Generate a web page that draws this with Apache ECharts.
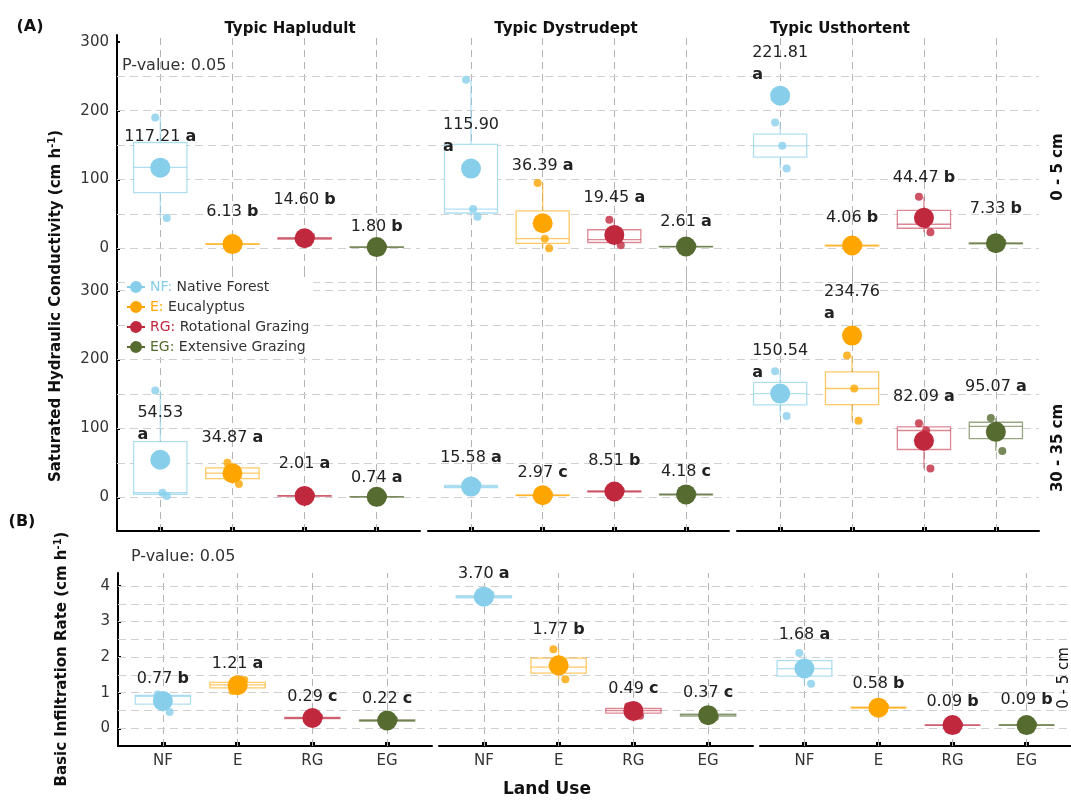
<!DOCTYPE html>
<html>
<head>
<meta charset="utf-8">
<script src="https://cdn.jsdelivr.net/npm/echarts@6/dist/echarts.min.js"></script>
<style>
  html, body { margin: 0; padding: 0; background: #fff; }
  #chart { width: 1071px; height: 805px; }
</style>
</head>
<body>
<div id="chart"></div>
<script>
// ---------------- data ----------------
const groups = ['NF', 'E', 'RG', 'EG'];
const groupLabels = ['Native Forest', 'Eucalyptus', 'Rotational Grazing', 'Extensive Grazing'];
const soils = ['Typic Hapludult', 'Typic Dystrudept', 'Typic Usthortent'];

// Saturated hydraulic conductivity, 0 - 5 cm (cm h-1), indexed [soil][land use]
const ksat05Mean = [[117.21, 6.13, 14.60, 1.80], [115.90, 36.39, 19.45, 2.61], [221.81, 4.06, 44.47, 7.33]];
const ksat05Letter = [['a', 'b', 'b', 'b'], ['a', 'a', 'a', 'a'], ['a', 'b', 'b', 'b']];
const ksat05Reps = [
  [[190, 117.6, 44], [5.2, 6.0, 7.2], [12.5, 14.3, 17.0], [1.2, 1.8, 2.4]],
  [[245, 57, 45.7], [95, 14, 0.2], [41.5, 12.5, 4.35], [1.9, 2.6, 3.33]],
  [[183, 149, 116], [3.2, 4.0, 5.0], [75, 35, 23.4], [5.9, 7.2, 8.9]]
];
const ksat05LabelAt = [[162, 53, 70, 31], [163, 120, 73, 38], [268, 44, 103, 57]];
const ksat05Wrap = [[false, false, false, false], [true, false, false, false], [true, false, false, false]];

// Saturated hydraulic conductivity, 30 - 35 cm (cm h-1)
const ksat30Mean = [[54.53, 34.87, 2.01, 0.74], [15.58, 2.97, 8.51, 4.18], [150.54, 234.76, 82.09, 95.07]];
const ksat30Letter = [['a', 'a', 'a', 'a'], ['a', 'c', 'b', 'c'], ['a', 'a', 'a', 'a']];
const ksat30Reps = [
  [[155, 6.6, 2], [50.3, 35, 19.3], [1.2, 2.0, 2.83], [0.4, 0.7, 1.12]],
  [[12.5, 15.5, 18.74], [2.1, 2.9, 3.91], [7.0, 8.5, 10.03], [3.2, 4.1, 5.24]],
  [[183, 150.6, 118], [206, 158, 111], [107.5, 97, 41.8], [115, 103, 67.2]]
];
const ksat30LabelAt = [[106, 87, 49, 28], [58, 35, 53, 37], [196, 282, 146, 161]];
const ksat30Wrap = [[true, false, false, false], [false, false, false, false], [true, true, false, false]];

// Basic infiltration rate, 0 - 5 cm (cm h-1)
const ibrMean = [[0.77, 1.21, 0.29, 0.22], [3.70, 1.77, 0.49, 0.37], [1.68, 0.58, 0.09, 0.09]];
const ibrLetter = [['b', 'a', 'c', 'c'], ['a', 'b', 'c', 'c'], ['a', 'b', 'b', 'b']];
const ibrReps = [
  [[0.95, 0.9, 0.46], [1.05, 1.22, 1.36], [0.26, 0.29, 0.32], [0.19, 0.22, 0.25]],
  [[3.64, 3.70, 3.76], [2.22, 1.72, 1.38], [0.62, 0.5, 0.35], [0.42, 0.38, 0.31]],
  [[2.12, 1.68, 1.25], [0.55, 0.58, 0.61], [0.08, 0.09, 0.10], [0.07, 0.09, 0.11]]
];
const ibrLabelAt = [[1.39, 1.80, 0.89, 0.84], [4.33, 2.78, 1.10, 1.00], [2.62, 1.26, 0.75, 0.81]];
const ibrWrap = [[false, false, false, false], [false, false, false, false], [false, false, false, false]];

// axis ticks and gridlines
const ksatTicks = [0, 100, 200, 300];
const ksat05Grid = [-50, 0, 50, 100, 150, 200, 250];
const ksat30Grid = [0, 50, 100, 150, 200, 250, 300];
const ibrTicks = [0, 1, 2, 3, 4];
const ibrGrid = [0, 0.5, 1, 1.5, 2, 2.5, 3, 3.5, 4];
const pValue = 'P-value: 0.05';

// ---------------- styling / layout ----------------
const FONT = '"DejaVu Sans", "Liberation Sans", Arial, sans-serif';
const colors = { NF: '#87CEEB', E: '#FFA500', RG: '#C0283E', EG: '#556B2F' };
const boxColors = {
  NF: 'rgba(135,206,235,0.65)', E: 'rgba(255,165,0,0.6)',
  RG: 'rgba(192,40,62,0.55)', EG: 'rgba(85,107,47,0.6)'
};
const JITTER = [-0.07, 0.03, 0.09];
const BOX_HALF = 0.37;
const colsA = [[117, 420], [428, 729], [737, 1039]];
const colsB = [[118, 432], [439, 753], [760, 1071]];

const rows = [
  { mean: ksat05Mean, letter: ksat05Letter, reps: ksat05Reps, labelAt: ksat05LabelAt, wrap: ksat05Wrap,
    top: 35, bottom: 285, min: -53.3, max: 310, ticks: ksatTicks, grid: ksat05Grid, cols: colsA },
  { mean: ksat30Mean, letter: ksat30Letter, reps: ksat30Reps, labelAt: ksat30LabelAt, wrap: ksat30Wrap,
    top: 272, bottom: 531, min: -48.9, max: 327.1, ticks: ksatTicks, grid: ksat30Grid, cols: colsA },
  { mean: ibrMean, letter: ibrLetter, reps: ibrReps, labelAt: ibrLabelAt, wrap: ibrWrap,
    top: 573, bottom: 746, min: -0.497, max: 4.365, ticks: ibrTicks, grid: ibrGrid, cols: colsB }
];

const measureCtx = document.createElement('canvas').getContext('2d');
function textWidth(str, font) { measureCtx.font = font; return measureCtx.measureText(str).width; }

function quantile(sorted, p) {
  const h = (sorted.length - 1) * p;
  const lo = Math.floor(h), hi = Math.ceil(h);
  return sorted[lo] + (sorted[hi] - sorted[lo]) * (h - lo);
}
function boxStats(vals) {
  const s = [...vals].sort((a, b) => a - b);
  return [s[0], quantile(s, 0.25), quantile(s, 0.5), quantile(s, 0.75), s[s.length - 1]];
}

const vLineStyle = { color: '#b4b4b4', width: 1, type: [7, 5] };
const hLineStyle = { color: '#d0d0d0', width: 1, type: [8, 5] };
const labelRich = {
  n: { fontFamily: FONT, fontSize: 16, fill: '#222', color: '#222', lineHeight: 22 },
  b: { fontFamily: FONT, fontSize: 16, fontWeight: 'bold', fill: '#222', color: '#222', lineHeight: 22 }
};

const grids = [], xAxes = [], yAxes = [], series = [];

rows.forEach((R, r) => {
  for (let c = 0; c < 3; c++) {
    const g = r * 3 + c;
    const [x0, x1] = R.cols[c];
    grids.push({ left: x0, top: R.top, width: x1 - x0, height: R.bottom - R.top,
      containLabel: false, outerBoundsMode: 'none' });

    xAxes.push({
      gridIndex: g, type: 'value', min: 0.4, max: 4.6,
      axisLine: { show: r > 0, onZero: false, lineStyle: { color: '#000', width: 2 } },
      axisTick: { show: r > 0, inside: true, length: 4, customValues: [1, 2, 3, 4],
        lineStyle: { color: '#000', width: 5 } },
      axisLabel: { show: r === 2, customValues: [1, 2, 3, 4], margin: 8,
        formatter: v => groups[Math.round(v) - 1],
        fontFamily: FONT, fontSize: 15, color: '#333' },
      splitLine: { show: false }
    });
    yAxes.push({
      gridIndex: g, type: 'value', min: R.min, max: R.max,
      axisLine: { show: c === 0, onZero: false, lineStyle: { color: '#000', width: 2 } },
      axisTick: { show: c === 0, inside: true, length: 3, customValues: R.ticks,
        lineStyle: { color: '#000', width: 2 } },
      axisLabel: { show: c === 0, customValues: R.ticks, margin: 8,
        fontFamily: FONT, fontSize: 15, color: '#333' },
      splitLine: { show: false }
    });

    const means = R.mean[c], reps = R.reps[c], letters = R.letter[c];
    const labelAt = R.labelAt[c], wrap = R.wrap[c];

    // box outlines with whiskers
    series.push({
      type: 'custom', xAxisIndex: g, yAxisIndex: g, z: 2, silent: true, clip: false,
      data: reps.map((v, k) => [k + 1, ...boxStats(v)]),
      renderItem: (params, api) => {
        const k = params.dataIndex;
        const x = api.value(0);
        const pMin = api.coord([x, api.value(1)]);
        const pQ1 = api.coord([x - BOX_HALF, api.value(2)]);
        const pMed = api.coord([x, api.value(3)]);
        const pQ3 = api.coord([x + BOX_HALF, api.value(4)]);
        const pMax = api.coord([x, api.value(5)]);
        const stroke = boxColors[groups[k]];
        const ls = { stroke, lineWidth: 1.3, fill: null };
        return { type: 'group', children: [
          { type: 'line', shape: { x1: pMin[0], y1: pMin[1], x2: pMin[0], y2: pQ1[1] }, style: ls },
          { type: 'line', shape: { x1: pMax[0], y1: pQ3[1], x2: pMax[0], y2: pMax[1] }, style: ls },
          { type: 'rect', shape: { x: pQ1[0], y: pQ3[1], width: pQ3[0] - pQ1[0], height: pQ1[1] - pQ3[1] },
            style: { stroke, lineWidth: 1.3, fill: '#fff' } },
          { type: 'line', shape: { x1: pQ1[0], y1: pMed[1], x2: pQ3[0], y2: pMed[1] }, style: ls }
        ] };
      }
    });

    // replicates (with gridlines as markLines)
    series.push({
      type: 'scatter', xAxisIndex: g, yAxisIndex: g, z: 3, symbolSize: 8, silent: true,
      data: reps.flatMap((vals, k) => vals.map((v, j) => ({
        value: [k + 1 + JITTER[j], v], itemStyle: { color: colors[groups[k]] }
      }))),
      markLine: {
        silent: true, z: 1, animation: false, symbol: ['none', 'none'], label: { show: false },
        emphasis: { disabled: true },
        data: [
          ...[1, 2, 3, 4].map(x => ({ xAxis: x, lineStyle: vLineStyle })),
          ...R.grid.map(y => ({ yAxis: y, lineStyle: hLineStyle }))
        ]
      }
    });

    // group means
    groups.forEach((name, k) => {
      series.push({
        type: 'scatter', name, xAxisIndex: g, yAxisIndex: g, z: 4, symbolSize: 20, silent: true,
        itemStyle: { color: colors[name], opacity: 1 },
        data: [[k + 1, means[k]]]
      });
    });

    // mean value + letter labels
    series.push({
      type: 'custom', xAxisIndex: g, yAxisIndex: g, z: 6, silent: true, clip: false,
      data: labelAt.map((v, k) => [k + 1, v]),
      renderItem: (params, api) => {
        const k = params.dataIndex;
        const p = api.coord([api.value(0), api.value(1)]);
        const num = means[k].toFixed(2);
        if (wrap[k]) {
          const w = textWidth(num, '16px ' + FONT);
          return { type: 'text', x: p[0] - w / 2, y: p[1], style: {
            text: '{n|' + num + '}\n{b|' + letters[k] + '}', rich: labelRich,
            align: 'left', verticalAlign: 'middle', fontFamily: FONT, fontSize: 16, fill: '#222' } };
        }
        return { type: 'text', x: p[0], y: p[1], style: {
          text: '{n|' + num + '} {b|' + letters[k] + '}', rich: labelRich,
          align: 'center', verticalAlign: 'middle', fontFamily: FONT, fontSize: 16, fill: '#222' } };
      }
    });
  }
});

const legendRich = {};
groups.forEach(n => { legendRich[n] = { color: colors[n], fontFamily: FONT, fontSize: 14, lineHeight: 16 }; });

const LEGEND_ICON = 'path://M1,9H4.1A6,6,0,0,1,15.9,9H19V11H15.9A6,6,0,0,1,4.1,11H1Z';

function txt(x, y, text, opts) {
  return Object.assign({ type: 'text', x, y, silent: true, z: 10,
    style: Object.assign({ text, fontFamily: FONT, fontSize: 15, fill: '#111',
      align: 'center', verticalAlign: 'middle' }, opts.style || {}) }, opts.el || {});
}
const titleRich = (size) => ({
  t: { fontFamily: FONT, fontSize: size, fontWeight: 'bold', fill: '#111', lineHeight: 18 },
  s: { fontFamily: FONT, fontSize: 10, fontWeight: 'bold', fill: '#111', lineHeight: 10, verticalAlign: 'top' }
});

const graphics = [
  txt(30, 27, '(A)', { style: { fontWeight: 'bold', fontSize: 16 } }),
  txt(22, 522, '(B)', { style: { fontWeight: 'bold', fontSize: 16 } }),
  txt(290, 29, soils[0], { style: { fontWeight: 'bold', fontSize: 15 } }),
  txt(566, 29, soils[1], { style: { fontWeight: 'bold', fontSize: 15 } }),
  txt(840, 29, soils[2], { style: { fontWeight: 'bold', fontSize: 15 } }),
  txt(122, 66, pValue, { style: { fontSize: 16, align: 'left', fill: '#333' } }),
  txt(131, 557, pValue, { style: { fontSize: 16, align: 'left', fill: '#333' } }),
  txt(1058, 167, '0 - 5 cm', { style: { fontWeight: 'bold', fontSize: 15 }, el: { rotation: Math.PI / 2 } }),
  txt(1058, 448, '30 - 35 cm', { style: { fontWeight: 'bold', fontSize: 15 }, el: { rotation: Math.PI / 2 } }),
  txt(1064, 678, '0 - 5 cm', { style: { fontSize: 15 }, el: { rotation: Math.PI / 2 } }),
  txt(56, 306, '{t|Saturated Hydraulic Conductivity (cm h}{s|-1}{t|)}',
    { style: { rich: titleRich(15) }, el: { rotation: Math.PI / 2 } }),
  txt(62, 659, '{t|Basic Infiltration Rate (cm h}{s|-1}{t|)}',
    { style: { rich: titleRich(15) }, el: { rotation: Math.PI / 2 } }),
  txt(547, 790, 'Land Use', { style: { fontWeight: 'bold', fontSize: 17 } })
];

const chart = echarts.init(document.getElementById('chart'), null, { renderer: 'canvas' });
chart.setOption({
  animation: false,
  backgroundColor: '#fff',
  textStyle: { fontFamily: FONT },
  tooltip: { show: false },
  grid: grids,
  xAxis: xAxes,
  yAxis: yAxes,
  legend: {
    data: groups.map(n => ({ name: n, icon: LEGEND_ICON })),
    orient: 'vertical', left: 126, top: 277, itemWidth: 18, itemHeight: 12, itemGap: 4,
    selectedMode: false, backgroundColor: '#fff', padding: [2, 4, 2, 1], z: 8,
    formatter: n => '{' + n + '|' + n + ':} ' + groupLabels[groups.indexOf(n)],
    textStyle: { fontFamily: FONT, fontSize: 14, color: '#333', lineHeight: 16, rich: legendRich }
  },
  graphic: graphics,
  series
});
</script>
</body>
</html>
